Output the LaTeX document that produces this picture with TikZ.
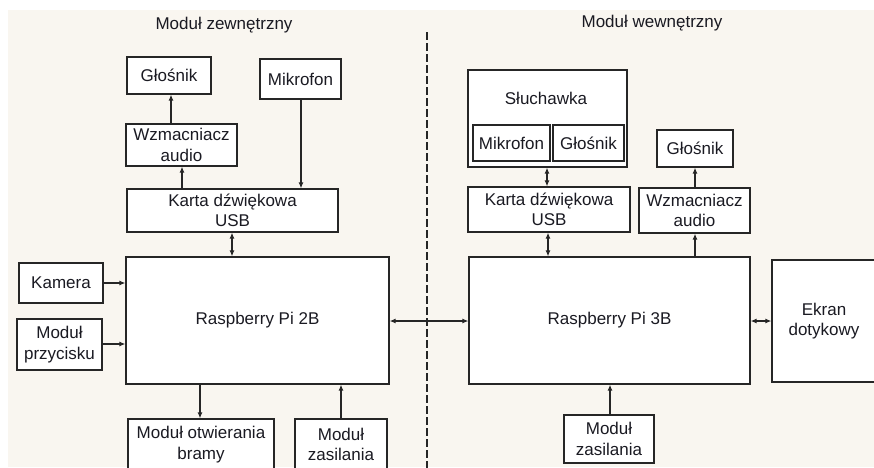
\documentclass[tikz,border=0pt]{standalone}
\usepackage{fontspec}
\setmainfont{Liberation Sans}
\usetikzlibrary{arrows.meta}
\definecolor{bg}{HTML}{F9F6F0}
\definecolor{ln}{HTML}{262626}
\definecolor{tx}{HTML}{1A1A22}
\begin{document}
\begin{tikzpicture}[x=1pt,y=-1pt,
  txt/.style={text=tx, inner sep=0pt, align=center, font=\fontsize{17}{20.5}\selectfont},
  box/.style={txt, draw=ln, line width=1.3pt, fill=white},
  tip/.tip={Latex[length=6pt,width=5pt]},
  arr/.style={-tip, line width=1.1pt, draw=ln},
  darr/.style={tip-tip, line width=1.1pt, draw=ln},
  sep/.style={draw=ln, line width=1.1pt, dash pattern=on 8pt off 3pt}]
\useasboundingbox (0,0) rectangle (874,467);
\fill[white] (0,0) rectangle (874,467);
\fill[bg] (8,10) rectangle (874,467);

% titles
\node[txt] (tL) at (224,25) {Moduł zewnętrzny};
\node[txt] (tR) at (652,23) {Moduł wewnętrzny};

% separator
\coordinate (sepT) at (427,32);
\coordinate (sepB) at (427,470);
\draw[sep] (sepT) -- (sepB);

% left module
\node[box, minimum width=84pt, minimum height=37pt] (glosL) at (169,75.5) {Głośnik};
\node[box, minimum width=81pt, minimum height=40pt] (mikL) at (300.5,79) {Mikrofon};
\node[box, minimum width=111pt, minimum height=42pt] (wzmL) at (181.5,145) {Wzmacniacz\\audio};
\node[box, minimum width=211pt, minimum height=43pt] (kartaL) at (232.5,210.5) {Karta dźwiękowa\\USB};
\node[box, minimum width=263pt, minimum height=127pt] (rpi2) at (257.5,320.5) {Raspberry Pi 2B};
\node[box, minimum width=84pt, minimum height=40pt] (kam) at (61,283) {Kamera};
\node[box, minimum width=85pt, minimum height=51pt] (przy) at (59.5,344.5) {Moduł\\przycisku};
\node[box, minimum width=146pt, minimum height=51pt] (brama) at (201,444.5) {Moduł otwierania\\bramy};
\node[box, minimum width=92pt, minimum height=51pt] (zasL) at (341,444.5) {Moduł\\zasilania};

% right module
\node[box, minimum width=159pt, minimum height=97pt] (sluch) at (547.5,118.5) {};
\node[txt] (sluchT) at (546,98) {Słuchawka};
\node[box, minimum width=77pt, minimum height=36pt] (mikR) at (511.5,143) {Mikrofon};
\node[box, minimum width=71pt, minimum height=36pt] (glosRi) at (588.5,143) {Głośnik};
\node[box, minimum width=162pt, minimum height=45pt] (kartaR) at (549,209.5) {Karta dźwiękowa\\USB};
\node[box, minimum width=76pt, minimum height=37pt] (glosR) at (695,148.5) {Głośnik};
\node[box, minimum width=111pt, minimum height=45pt] (wzmR) at (694.5,210.5) {Wzmacniacz\\audio};
\node[box, minimum width=281pt, minimum height=127pt] (rpi3) at (609.5,320.5) {Raspberry Pi 3B};
\node[box, minimum width=104pt, minimum height=122pt] (ekran) at (824,321) {Ekran\\dotykowy};
\node[box, minimum width=90pt, minimum height=48pt] (zasR) at (609,439) {Moduł\\zasilania};

% x positions of vertical connectors
\coordinate (x171) at (171,0);
\coordinate (x182) at (182,0);
\coordinate (x301) at (301,0);
\coordinate (x232) at (232,0);
\coordinate (x200) at (200,0);
\coordinate (x341) at (341,0);
\coordinate (x547) at (547,0);
\coordinate (x548) at (548,0);
\coordinate (x695) at (695,0);
\coordinate (x610) at (610,0);
\coordinate (y283) at (0,283);
\coordinate (y344) at (0,344);
\coordinate (y321) at (0,321);

% left connectors
\draw[arr] (wzmL.north -| x171) -- (glosL.south -| x171);
\draw[arr] (kartaL.north -| x182) -- (wzmL.south -| x182);
\draw[arr] (mikL.south -| x301) -- (kartaL.north -| x301);
\draw[darr] (kartaL.south -| x232) -- (rpi2.north -| x232);
\draw[arr] (kam.east |- y283) -- (rpi2.west |- y283);
\draw[arr] (przy.east |- y344) -- (rpi2.west |- y344);
\draw[arr] (rpi2.south -| x200) -- (brama.north -| x200);
\draw[arr] (zasL.north -| x341) -- (rpi2.south -| x341);
\draw[darr] (rpi2.east |- y321) -- (rpi3.west |- y321);

% right connectors
\draw[darr] (sluch.south -| x547) -- (kartaR.north -| x547);
\draw[darr] (kartaR.south -| x548) -- (rpi3.north -| x548);
\draw[arr] (rpi3.north -| x695) -- (wzmR.south -| x695);
\draw[arr] (wzmR.north -| x695) -- (glosR.south -| x695);
\draw[darr] (rpi3.east |- y321) -- (ekran.west |- y321);
\draw[arr] (zasR.north -| x610) -- (rpi3.south -| x610);
\end{tikzpicture}
\end{document}
